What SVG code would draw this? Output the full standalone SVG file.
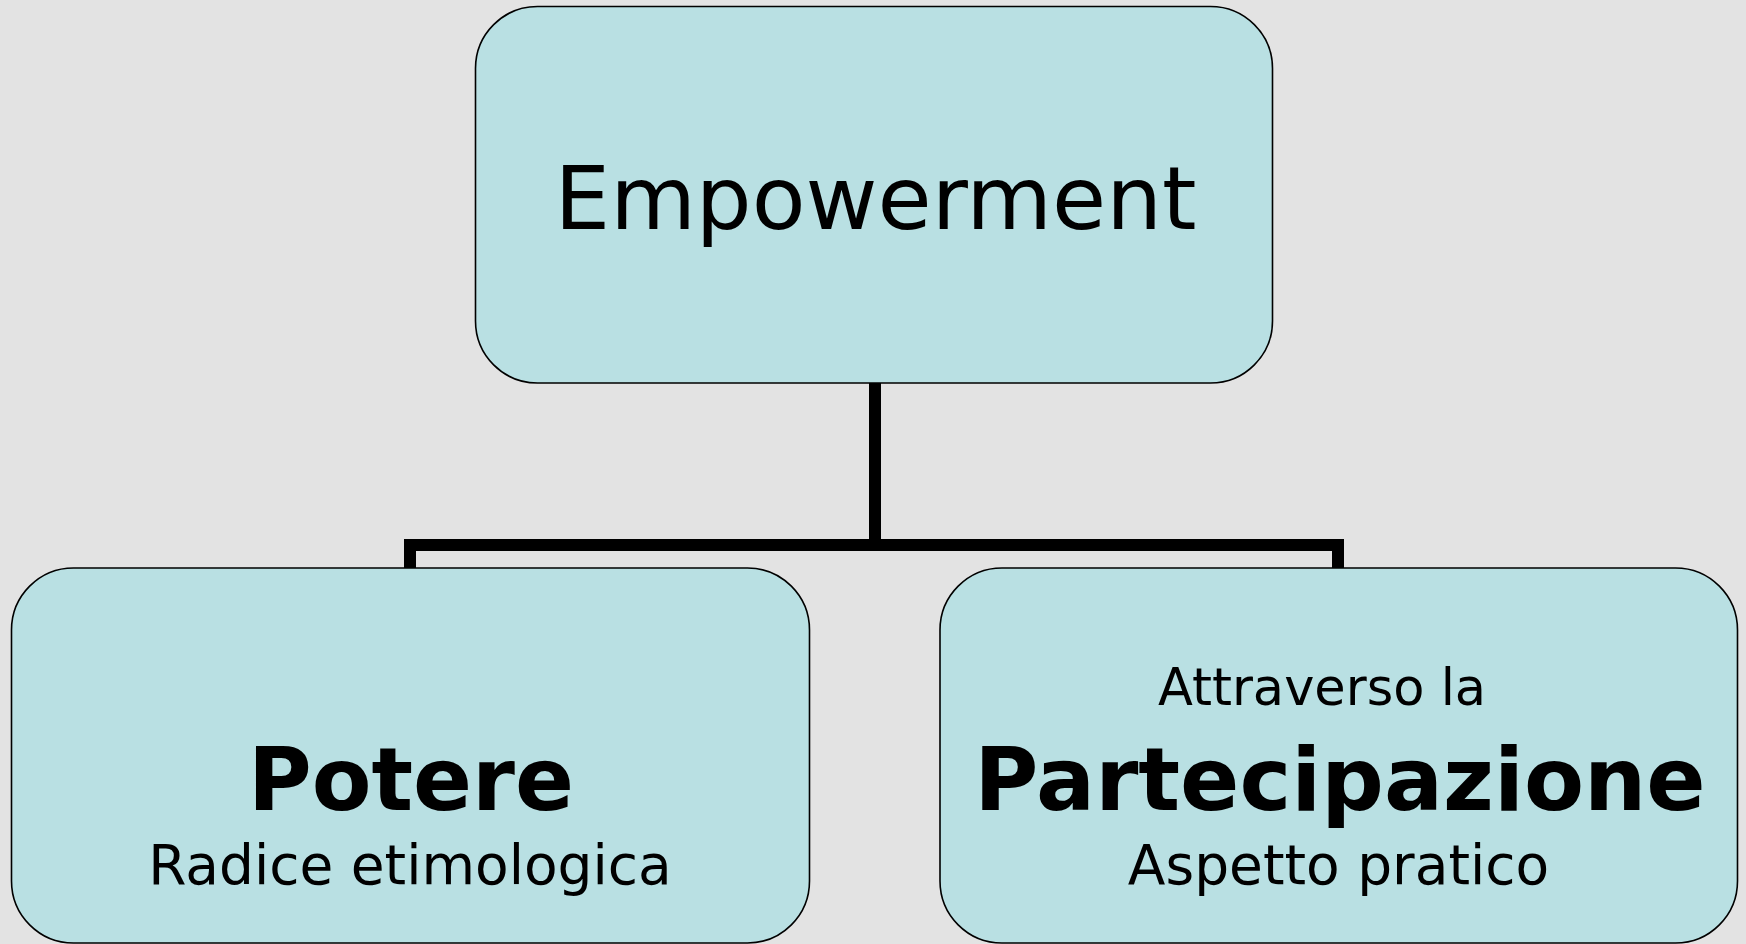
<svg xmlns="http://www.w3.org/2000/svg" width="1746" height="944" viewBox="0 0 1746 944">
<style>
.box{fill:#B9E0E3;stroke:#000;stroke-width:1.6}
.t{font-family:"DejaVu Sans",Verdana,sans-serif;fill:#000;text-anchor:middle}
.b{font-weight:bold}
.conn{fill:none;stroke:#000;stroke-width:12;stroke-linejoin:miter}
</style>
<rect width="1746" height="944" fill="#E3E3E3"/>
<g id="connectors">
<path class="conn" d="M410,568 V545 H1338 V568"/>
<path class="conn" d="M875,383 V551"/>
</g>
<g id="empowerment">
<rect class="box" x="475.5" y="6.5" width="797" height="376.5" rx="62" ry="62"/>
<text class="t" x="875.5" y="229" font-size="88">Empowerment</text>
</g>
<g id="potere">
<rect class="box" x="11.5" y="568" width="798" height="375" rx="62" ry="62"/>
<text class="t b" x="411" y="810" font-size="87">Potere</text>
<text class="t" x="410" y="884" font-size="55">Radice etimologica</text>
</g>
<g id="partecipazione">
<rect class="box" x="940" y="568" width="797.5" height="375" rx="62" ry="62"/>
<text class="t" x="1322" y="705" font-size="51">Attraverso la</text>
<text class="t b" x="1340" y="810" font-size="87.5">Partecipazione</text>
<text class="t" x="1338.5" y="884" font-size="55">Aspetto pratico</text>
</g>
</svg>
